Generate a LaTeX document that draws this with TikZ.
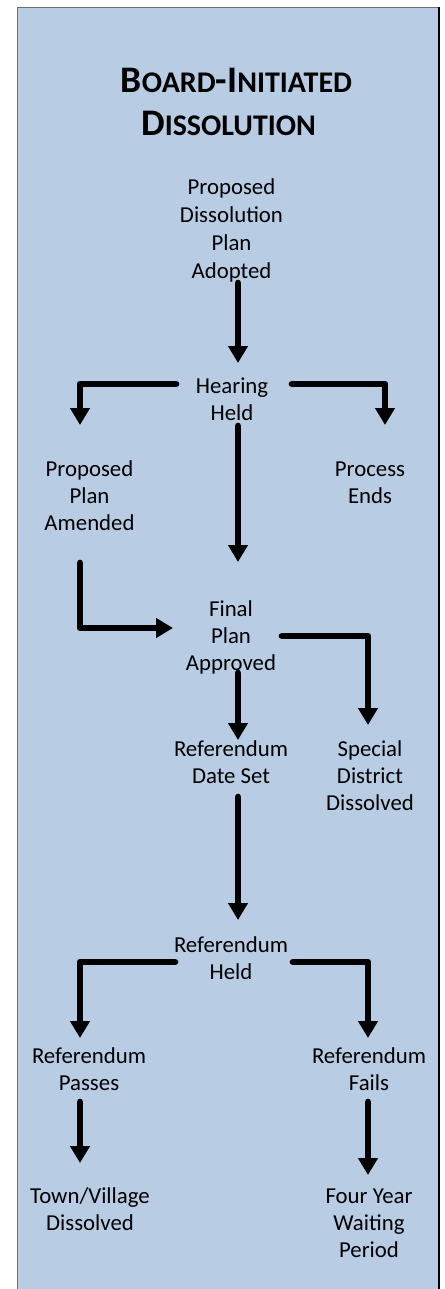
\documentclass[tikz,border=0pt]{standalone}
\usepackage{fontspec}
\setmainfont{Carlito}
\usetikzlibrary{arrows.meta,calc}
\definecolor{panel}{HTML}{B8CCE4}
\definecolor{edgegray}{HTML}{6F6F6F}
\newcommand{\mlines}[1]{\begin{tabular}[t]{@{}c@{}}#1\end{tabular}}
\newcommand{\smc}[1]{{\fontsize{30}{43}\selectfont #1}}
\begin{document}
\begin{tikzpicture}[x=1pt,y=-1pt,
  lbl/.style={anchor=base,inner sep=0pt,font=\fontsize{22.8}{27}\selectfont},
  ttl/.style={anchor=base,inner sep=0pt,font=\bfseries\fontsize{37.5}{43}\selectfont},
  arr/.style={line width=6.7pt,line cap=round,line join=round,-{Triangle[width=19pt,length=17pt]}}]
\useasboundingbox (0,0) rectangle (444,1289);
\fill[panel] (17,7.5) rectangle (439,1295);
\draw[line width=1.5pt,edgegray] (17.5,1295) -- (17.5,7.5) -- (439,7.5);
\draw[line width=1.2pt,black] (439,7.5) -- (439,1295);

\node[ttl] (title) at (236.5,93) {\mlines{B\smc{OARD}-I\smc{NITIATED}\\D\smc{ISSOLUTION}\hspace*{16pt}}};

\node[lbl,font=\fontsize{22.8}{28}\selectfont] (p1) at (231.5,195) {\mlines{Proposed\\Dissolution\\Plan\\Adopted}};
\node[lbl] (hear) at (232,393) {\mlines{Hearing\\Held}};
\node[lbl] (amend) at (89.5,476) {\mlines{Proposed\\Plan\\Amended}};
\node[lbl] (ends) at (370,476) {\mlines{Process\\Ends}};
\node[lbl] (final) at (231,616) {\mlines{Final\\Plan\\Approved}};
\node[lbl] (refdate) at (231,756) {\mlines{Referendum\\Date Set}};
\node[lbl] (special) at (370,756) {\mlines{Special\\District\\Dissolved}};
\node[lbl] (refheld) at (231,952) {\mlines{Referendum\\Held}};
\node[lbl] (passes) at (89,1063) {\mlines{Referendum\\Passes}};
\node[lbl] (fails) at (369,1063) {\mlines{Referendum\\Fails}};
\node[lbl] (town) at (90,1203) {\mlines{Town/Village\\Dissolved}};
\node[lbl] (four) at (369,1203) {\mlines{Four Year\\Waiting\\Period}};

\draw[arr] ($(p1.base)+(6.5,88)$) -- ($(hear.base)+(6,-30)$);
\draw[arr] ($(hear.base)+(-56,-9)$) -| ($(amend.base)+(-9.5,-51)$);
\draw[arr] ($(hear.base)+(60,-9)$) -| ($(ends.base)+(15,-51)$);
\draw[arr] ($(hear.base)+(6,33)$) -- ($(final.base)+(7,-54)$);
\draw[arr] ($(amend.base)+(-9.5,87)$) |- ($(final.base)+(-58,12)$);
\draw[arr] ($(final.base)+(51,20)$) -| ($(special.base)+(-2,-31)$);
\draw[arr] ($(final.base)+(7,57)$) -- ($(refdate.base)+(7,-16)$);
\draw[arr] ($(refdate.base)+(7,41)$) -- ($(refheld.base)+(7,-32)$);
\draw[arr] ($(refheld.base)+(-56,10)$) -| ($(passes.base)+(-9,-25)$);
\draw[arr] ($(refheld.base)+(62,10)$) -| ($(fails.base)+(-1,-25)$);
\draw[arr] ($(passes.base)+(-9,39)$) -- ($(town.base)+(-10,-40)$);
\draw[arr] ($(fails.base)+(-1,39)$) -- ($(four.base)+(-1,-28)$);
\end{tikzpicture}
\end{document}
